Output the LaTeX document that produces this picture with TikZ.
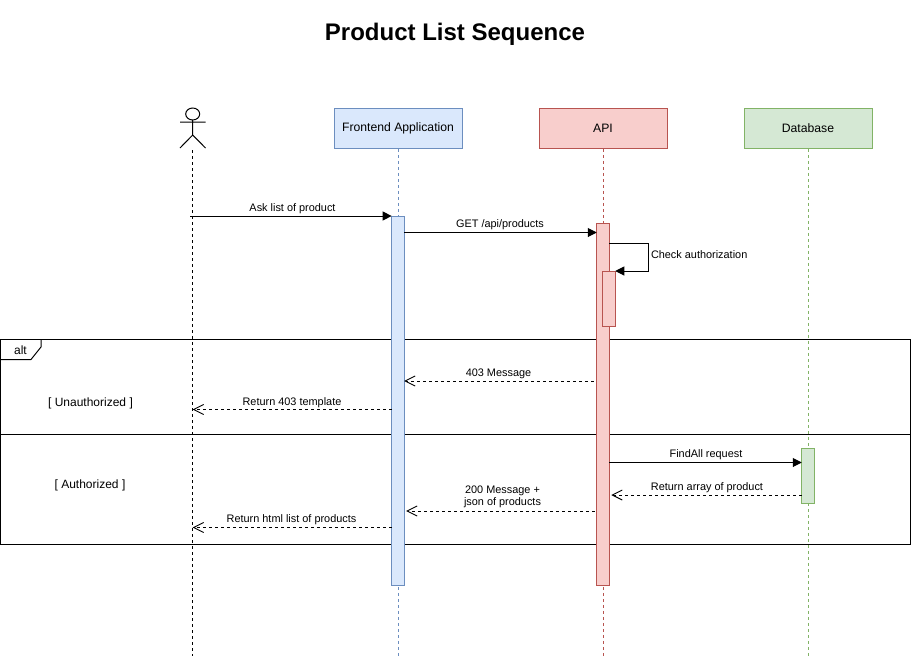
\documentclass[tikz,border=0pt]{standalone}
\usepackage{fontspec}
\setmainfont{Liberation Sans}
\usetikzlibrary{arrows.meta}
\definecolor{febg}{HTML}{DAE8FC}\definecolor{fedr}{HTML}{6C8EBF}
\definecolor{apibg}{HTML}{F8CECC}\definecolor{apidr}{HTML}{B85450}
\definecolor{dbbg}{HTML}{D5E8D4}\definecolor{dbdr}{HTML}{82B366}
\tikzset{
  headbox/.style={draw,line width=1pt,minimum width=128pt,minimum height=40.5pt,inner sep=0pt,outer sep=0pt,font=\fontsize{12.2}{14}\selectfont},
  bar/.style={draw,line width=1pt,minimum width=12.5pt,inner sep=0pt,outer sep=0pt},
  life/.style={line width=1pt,dash pattern=on 3pt off 3pt},
  msg/.style={line width=1pt,-{Triangle[length=9pt,width=9pt]}},
  ret/.style={line width=1pt,dash pattern=on 3pt off 3pt,-{Straight Barb[length=10pt,width=10pt,line width=.9pt]}},
  lbl/.style={inner sep=0pt,outer sep=0pt,font=\fontsize{10.9}{12}\selectfont,align=center},
  guard/.style={inner sep=0pt,outer sep=0pt,font=\fontsize{12}{14}\selectfont},
}
\begin{document}
\begin{tikzpicture}[x=1pt,y=-1pt]
\useasboundingbox (0,0) rectangle (911,656);
% heads
\node[headbox,fill=febg,draw=fedr] (fe) at (398,128.5) {Frontend Application};
\node[headbox,fill=apibg,draw=apidr] (api) at (603,128.5) {API};
\node[headbox,fill=dbbg,draw=dbdr] (db) at (808,128.5) {Database};
% actor
\coordinate (actor) at (192.7,150);
\draw[line width=1pt] (192.7,114) ellipse[x radius=7,y radius=6];
\draw[line width=1pt] (192.7,120) -- (192.7,135) (180,122) -- (205.5,122) (180,148) -- (192.7,135) -- (205.5,148);
% lifeline ends
\coordinate (actorend) at (192.7,656);
\coordinate (feend) at (398,656);
\coordinate (apiend) at (603,656);
\coordinate (dbend) at (808,656);
\draw[life] (actor) -- (actorend);
\draw[life,draw=fedr] (fe.south) -- (feend);
\draw[life,draw=apidr] (api.south) -- (apiend);
\draw[life,draw=dbdr] (db.south) -- (dbend);
% alt frame
\node[draw,line width=1pt,minimum width=910pt,minimum height=205.5pt,inner sep=0pt,outer sep=0pt] (frame) at (455.5,442) {};
\coordinate (sepl) at (0.5,434);
\coordinate (sepr) at (910.5,434);
\draw[line width=1pt] (sepl) -- (sepr);
\draw[line width=1pt] (0.5,359.5) -- (31,359.5) -- (41,347) -- (41,339);
\node[guard] (alt) at (20.5,350) {alt};
\node[guard] (unauth) at (90.5,403) {[ Unauthorized ]};
\node[guard] (auth) at (90,485) {[ Authorized ]};
% activations
\node[bar,fill=febg,draw=fedr,minimum height=369pt] (febar) at (397.9,400.5) {};
\node[bar,fill=apibg,draw=apidr,minimum height=362pt] (apibar) at (603,404) {};
\node[bar,fill=apibg,draw=apidr,minimum height=55pt] (apiin) at (609,298.5) {};
\node[bar,fill=dbbg,draw=dbdr,minimum height=55pt] (dbbar) at (808,476) {};
% messages
\draw[msg] ([xshift=-2.5pt]actor |- 0,216) -- (febar.north west);
\node[lbl] (m1) at (292.5,208.5) {Ask list of product};
\draw[msg] (febar.east |- 0,232.5) -- (apibar.west |- 0,232.5);
\node[lbl] (m2) at (500,224.5) {GET /api/products};
\draw[msg] (apibar.east |- 0,243.5) -- (648,243.5) -- (648,271) -- (apiin.north east);
\node[lbl,anchor=west] (m3) at (651,255) {Check authorization};
\draw[ret] ([xshift=-3pt]apibar.west |- 0,381) -- (febar.east |- 0,381);
\node[lbl] (m4) at (498.5,373.5) {403 Message};
\draw[ret] (febar.west |- 0,409.5) -- (actor |- 0,409.5);
\node[lbl] (m5) at (292,402.5) {Return 403 template};
\draw[msg] (apibar.east |- 0,462.5) -- (dbbar.west |- 0,462.5);
\node[lbl] (m6) at (706,454.5) {FindAll request};
\draw[ret] (dbbar.west |- 0,495) -- ([xshift=2pt]apibar.east |- 0,495);
\node[lbl] (m7) at (707,487.5) {Return array of product};
\draw[ret] ([xshift=-2pt]apibar.west |- 0,511) -- ([xshift=2pt]febar.east |- 0,511);
\node[lbl] (m8) at (502.5,497) {200 Message +\\json of products};
\draw[ret] (febar.west |- 0,527.5) -- (actor |- 0,527.5);
\node[lbl] (m9) at (291.5,519.5) {Return html list of products};
% title
\node[inner sep=0pt,font=\bfseries\fontsize{24}{28}\selectfont] (title) at (455,34) {Product List Sequence};
\end{tikzpicture}
\end{document}
